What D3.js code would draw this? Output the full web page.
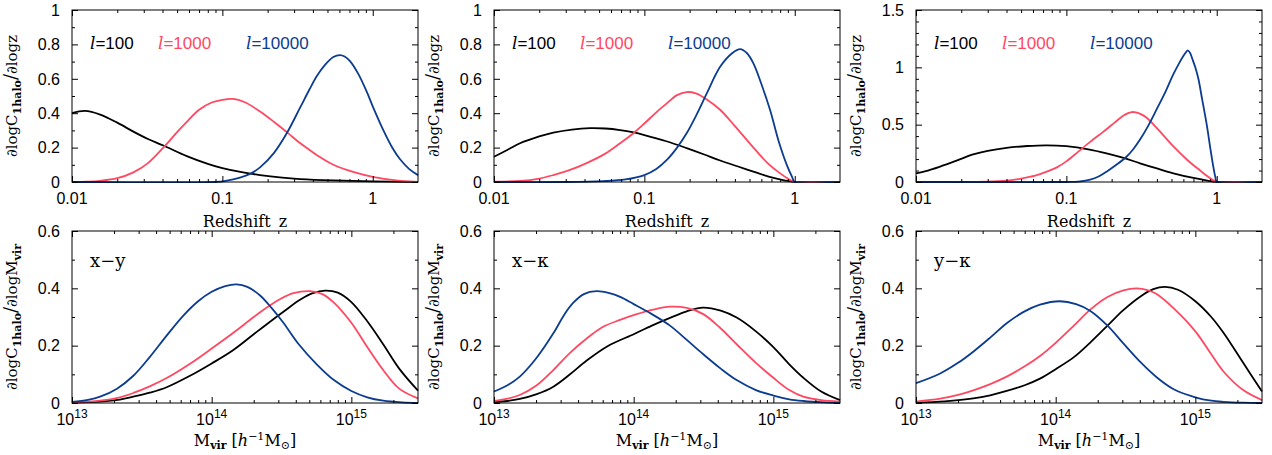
<!DOCTYPE html>
<html><head><meta charset="utf-8">
<script src="https://cdn.jsdelivr.net/npm/d3@7"></script>
<style>body{margin:0;background:#fff}svg{display:block}</style>
</head><body><svg id="c" width="1272" height="455"></svg>
<script>
// ---------------- DATA ----------------
const seriesNames = ["l=100", "l=1000", "l=10000"];
const seriesColors = ["#000000", "#ff4862", "#0b3c8f"];
const zTicks = [0.01, 0.1, 1];
const zTickLabels = ["0.01", "0.1", "1"];
const mTicks = [1e13, 1e14, 1e15];
const mTickExponents = ["13", "14", "15"];
const panelTags = ["x\u2212y", "x\u2212\u03ba", "y\u2212\u03ba"];

// top-left panel: [z, dlogC/dlogz]
const zA_l100 = [[0.01,0.40],[0.0122,0.413],[0.0154,0.392],[0.02,0.345],[0.0256,0.293],[0.032,0.25],[0.0405,0.212],[0.058,0.15],[0.08,0.105],[0.1,0.08],[0.14,0.055],[0.178,0.04],[0.25,0.025],[0.329,0.017],[0.547,0.009],[1,0.004],[2,0.0]];
const zA_l1000 = [[0.01,0],[0.0125,0.002],[0.0154,0.007],[0.02,0.022],[0.0256,0.056],[0.032,0.11],[0.0405,0.2],[0.05,0.29],[0.058,0.35],[0.07,0.42],[0.085,0.462],[0.1,0.478],[0.118,0.483],[0.14,0.465],[0.178,0.41],[0.22,0.35],[0.268,0.29],[0.33,0.225],[0.38,0.186],[0.424,0.157],[0.547,0.1],[0.75,0.057],[1,0.03],[1.52,0.006],[2,0]];
const zA_l10000 = [[0.01,0],[0.09,0],[0.105,0.006],[0.131,0.025],[0.155,0.05],[0.178,0.085],[0.22,0.168],[0.268,0.283],[0.33,0.435],[0.38,0.539],[0.424,0.615],[0.48,0.68],[0.547,0.727],[0.606,0.738],[0.65,0.73],[0.706,0.703],[0.8,0.63],[0.912,0.525],[1,0.44],[1.178,0.30],[1.35,0.199],[1.52,0.132],[1.75,0.075],[2,0.04]];
// top-middle panel
const zB_l100 = [[0.01,0.147],[0.0125,0.19],[0.0149,0.225],[0.02,0.265],[0.0248,0.287],[0.033,0.305],[0.0435,0.313],[0.055,0.311],[0.0689,0.302],[0.085,0.288],[0.1,0.273],[0.14,0.237],[0.191,0.197],[0.25,0.16],[0.319,0.125],[0.42,0.09],[0.531,0.06],[0.68,0.03],[0.85,0.01],[1,0],[2,0]];
const zB_l1000 = [[0.01,0.002],[0.0149,0.006],[0.02,0.02],[0.0248,0.04],[0.032,0.07],[0.0413,0.11],[0.055,0.165],[0.0689,0.225],[0.085,0.285],[0.1,0.34],[0.12,0.405],[0.141,0.457],[0.165,0.505],[0.191,0.523],[0.22,0.515],[0.26,0.48],[0.319,0.42],[0.4,0.325],[0.531,0.2],[0.66,0.11],[0.8,0.05],[0.92,0.015],[1,0],[2,0]];
const zB_l10000 = [[0.01,0],[0.03,0],[0.0534,0.005],[0.075,0.015],[0.1,0.04],[0.12,0.075],[0.141,0.128],[0.165,0.2],[0.191,0.283],[0.225,0.4],[0.26,0.515],[0.319,0.67],[0.385,0.75],[0.433,0.773],[0.48,0.75],[0.531,0.69],[0.6,0.57],[0.685,0.42],[0.78,0.24],[0.885,0.1],[0.96,0.03],[1,0],[2,0]];
// top-right panel
const zC_l100 = [[0.01,0.076],[0.012,0.1],[0.01445,0.134],[0.019,0.19],[0.024,0.24],[0.03,0.272],[0.04,0.298],[0.055,0.314],[0.074,0.32],[0.1,0.312],[0.14,0.285],[0.185,0.25],[0.24,0.21],[0.309,0.163],[0.4,0.118],[0.515,0.076],[0.7,0.035],[0.88,0.01],[1,0],[2,0]];
const zC_l1000 = [[0.01,0],[0.03,0.004],[0.04,0.012],[0.05,0.03],[0.062,0.055],[0.074,0.09],[0.087,0.13],[0.1,0.18],[0.12,0.265],[0.144,0.35],[0.165,0.41],[0.185,0.46],[0.21,0.52],[0.239,0.577],[0.255,0.598],[0.272,0.61],[0.29,0.607],[0.315,0.59],[0.342,0.56],[0.4,0.47],[0.515,0.31],[0.64,0.19],[0.776,0.1],[0.9,0.035],[1,0],[2,0]];
const zC_l10000 = [[0.01,0],[0.1,0],[0.12,0.004],[0.144,0.02],[0.165,0.05],[0.185,0.09],[0.215,0.15],[0.251,0.22],[0.28,0.29],[0.309,0.37],[0.35,0.49],[0.399,0.635],[0.45,0.77],[0.515,0.94],[0.57,1.05],[0.615,1.12],[0.641,1.148],[0.665,1.125],[0.69,1.07],[0.72,1.0],[0.755,0.9],[0.8,0.72],[0.858,0.5],[0.91,0.28],[0.95,0.13],[0.98,0.04],[1,0],[2,0]];
// bottom-left panel (x-y): [Mvir, dlogC/dlogM]
const mA_l100 = [[1e13,0.001],[1.59e13,0.005],[2.2e13,0.012],[2.75e13,0.022],[3.6e13,0.036],[4.76e13,0.055],[7e13,0.095],[1e14,0.138],[1.43e14,0.185],[2e14,0.24],[2.48e14,0.275],[3.3e14,0.32],[4.29e14,0.36],[5.3e14,0.383],[6.48e14,0.392],[8e14,0.385],[1e15,0.352],[1.3e15,0.285],[1.69e15,0.205],[2.2e15,0.12],[3e15,0.043]];
const mA_l1000 = [[1e13,0.002],[1.59e13,0.008],[2.2e13,0.02],[2.75e13,0.035],[3.6e13,0.058],[4.76e13,0.087],[7e13,0.137],[1e14,0.19],[1.43e14,0.245],[2e14,0.3],[2.48e14,0.333],[3.1e14,0.363],[3.85e14,0.383],[5.06e14,0.39],[6.2e14,0.38],[7.43e14,0.352],[1e15,0.28],[1.3e15,0.195],[1.69e15,0.115],[2.2e15,0.05],[3e15,0.016]];
const mA_l10000 = [[1e13,0.004],[1.3e13,0.011],[1.59e13,0.022],[2.1e13,0.05],[2.75e13,0.095],[3.6e13,0.16],[4.76e13,0.235],[6.27e13,0.305],[8e13,0.355],[1e14,0.388],[1.25e14,0.408],[1.51e14,0.414],[1.8e14,0.405],[2.22e14,0.375],[2.7e14,0.33],[3.26e14,0.28],[4.2e14,0.205],[5.65e14,0.135],[7.5e14,0.08],[1e15,0.042],[1.3e15,0.02],[1.69e15,0.008],[2.3e15,0.002],[3e15,0]];
// bottom-middle panel (x-kappa)
const mB_l100 = [[1e13,0.003],[1.25e13,0.007],[1.53e13,0.014],[2e13,0.03],[2.66e13,0.057],[3.5e13,0.1],[4.61e13,0.148],[6.5e13,0.198],[1e14,0.24],[1.35e14,0.27],[1.82e14,0.297],[2.4e14,0.32],[3.15e14,0.333],[4.2e14,0.322],[5.46e14,0.298],[7.5e14,0.25],[1e15,0.195],[1.3e15,0.135],[1.64e15,0.088],[2.2e15,0.04],[3e15,0.01]];
const mB_l1000 = [[1e13,0.007],[1.25e13,0.015],[1.53e13,0.028],[2e13,0.06],[2.66e13,0.115],[3.5e13,0.175],[4.61e13,0.225],[6e13,0.265],[7.98e13,0.29],[1.05e14,0.31],[1.38e14,0.326],[1.82e14,0.336],[2.4e14,0.332],[3.15e14,0.31],[4.1e14,0.265],[5.46e14,0.205],[7.5e14,0.14],[1e15,0.088],[1.3e15,0.045],[1.64e15,0.022],[2.2e15,0.01],[3e15,0.005]];
const mB_l10000 = [[1e13,0.04],[1.25e13,0.062],[1.53e13,0.092],[2e13,0.155],[2.66e13,0.243],[3.2e13,0.31],[3.7e13,0.35],[4.4e13,0.38],[5.43e13,0.39],[6.7e13,0.383],[8e13,0.37],[1e14,0.345],[1.35e14,0.31],[1.82e14,0.27],[2.4e14,0.22],[3.15e14,0.17],[4.2e14,0.12],[5.46e14,0.08],[7.5e14,0.045],[1e15,0.026],[1.3e15,0.013],[1.64e15,0.007],[2.3e15,0.002],[3e15,0]];
// bottom-right panel (y-kappa)
const mC_l100 = [[1e13,0.001],[1.6e13,0.006],[2.57e13,0.016],[3.4e13,0.027],[4.46e13,0.042],[6e13,0.062],[7.72e13,0.085],[1e14,0.118],[1.35e14,0.16],[1.76e14,0.21],[2.35e14,0.27],[3.05e14,0.324],[4e14,0.37],[5e14,0.397],[6.06e14,0.405],[7.5e14,0.395],[1e15,0.355],[1.3e15,0.3],[1.59e15,0.245],[2.2e15,0.14],[3e15,0.04]];
const mC_l1000 = [[1e13,0.005],[1.49e13,0.015],[2e13,0.028],[2.57e13,0.044],[3.4e13,0.066],[4.46e13,0.092],[6e13,0.128],[7.72e13,0.164],[1e14,0.21],[1.35e14,0.27],[1.76e14,0.325],[2.35e14,0.37],[3.05e14,0.393],[3.8e14,0.40],[4.6e14,0.393],[5.28e14,0.38],[7e14,0.33],[1e15,0.25],[1.3e15,0.17],[1.59e15,0.11],[2.2e15,0.045],[3e15,0.01]];
const mC_l10000 = [[1e13,0.069],[1.49e13,0.103],[2e13,0.14],[2.57e13,0.179],[3.4e13,0.228],[4.46e13,0.278],[5.9e13,0.318],[7.72e13,0.343],[1.07e14,0.355],[1.4e14,0.345],[1.76e14,0.322],[2.35e14,0.27],[3.05e14,0.208],[4e14,0.145],[5.28e14,0.09],[7e14,0.048],[1e15,0.02],[1.3e15,0.008],[1.59e15,0.004],[2.2e15,0.001],[3e15,0]];

// ---------------- LAYOUT ----------------
const svg = d3.select("#c");
const PW = 346, PH = 172;
const lefts = [72, 494, 916];
const tops = [10, 231];
const SANS = "'Liberation Sans', Arial, sans-serif";
const SERIF = "'DejaVu Serif', serif";

function minorLog(lo, hi) {
  const out = [];
  for (let e = Math.floor(Math.log10(lo)); e <= Math.ceil(Math.log10(hi)); e++) {
    for (let k = 2; k <= 9; k++) { const v = k * Math.pow(10, e); if (v > lo * 1.0001 && v < hi * 0.9999) out.push(v); }
  }
  return out;
}
function linTicks(lo, hi, step) {
  const out = []; const n = Math.round((hi - lo) / step);
  for (let i = 0; i <= n; i++) out.push(+(lo + i * step).toFixed(6));
  return out;
}

function panel(px, py, cfg, idx) {
  const g = svg.append("g").attr("transform", `translate(${px},${py})`);
  const x = d3.scaleLog().domain(cfg.xDomain).range([0, PW]);
  const y = d3.scaleLinear().domain(cfg.yDomain).range([PH, 0]);
  const clipId = "clip" + idx;
  g.append("clipPath").attr("id", clipId).append("rect").attr("x", -1).attr("y", -2).attr("width", PW + 2).attr("height", PH + 3);

  // curves
  const line = d3.line().x(d => x(d[0])).y(d => y(d[1])).curve(d3.curveCatmullRom.alpha(0.5));
  const cg = g.append("g").attr("clip-path", `url(#${clipId})`);
  cfg.series.forEach((s, i) => {
    cg.append("path").attr("d", line(s)).attr("fill", "none")
      .attr("stroke", seriesColors[i]).attr("stroke-width", 1.8).attr("stroke-linejoin", "round");
  });

  // ticks
  const strip = s => { s.select(".domain").remove(); s.selectAll("text").remove(); s.selectAll("line").attr("stroke", "#000").attr("stroke-width", 1); };
  const xMinor = minorLog(cfg.xDomain[0], cfg.xDomain[1]);
  const yMaj = cfg.yMajor, yMin = cfg.yMinor.filter(v => !yMaj.includes(v));
  g.append("g").attr("transform", `translate(0,${PH})`).call(d3.axisBottom(x).tickValues(cfg.xMajor).tickSize(-6)).call(strip);
  g.append("g").attr("transform", `translate(0,${PH})`).call(d3.axisBottom(x).tickValues(xMinor).tickSize(-3)).call(strip);
  g.append("g").call(d3.axisTop(x).tickValues(cfg.xMajor).tickSize(-6)).call(strip);
  g.append("g").call(d3.axisTop(x).tickValues(xMinor).tickSize(-3)).call(strip);
  g.append("g").call(d3.axisLeft(y).tickValues(yMaj).tickSize(-6)).call(strip);
  g.append("g").call(d3.axisLeft(y).tickValues(yMin).tickSize(-3)).call(strip);
  g.append("g").attr("transform", `translate(${PW},0)`).call(d3.axisRight(y).tickValues(yMaj).tickSize(-6)).call(strip);
  g.append("g").attr("transform", `translate(${PW},0)`).call(d3.axisRight(y).tickValues(yMin).tickSize(-3)).call(strip);

  // frame
  g.append("rect").attr("width", PW).attr("height", PH).attr("fill", "none").attr("stroke", "#000").attr("stroke-width", 1);

  // y tick labels
  yMaj.forEach((v, i) => {
    g.append("text").attr("x", -12).attr("y", y(v)).attr("dy", "0.36em").attr("text-anchor", "end")
      .attr("font-family", SANS).attr("font-size", 16).text(cfg.yLabels[i]);
  });
  // x tick labels
  cfg.xMajor.forEach((v, i) => {
    if (cfg.xExp) {
      const t = g.append("text").attr("x", x(v)).attr("y", PH + 22).attr("text-anchor", "middle")
        .attr("font-family", SANS).attr("font-size", 16);
      t.append("tspan").text("10");
      t.append("tspan").attr("dy", -7).attr("font-size", 12).text(cfg.xExp[i]);
    } else {
      g.append("text").attr("x", x(v)).attr("y", PH + 22).attr("text-anchor", "middle")
        .attr("font-family", SANS).attr("font-size", 16).text(cfg.xLabels[i]);
    }
  });

  // axis titles
  if (cfg.kind === "z") {
    g.append("text").attr("x", PW / 2).attr("y", PH + 45).attr("text-anchor", "middle")
      .attr("font-family", SERIF).attr("font-size", 16).attr("word-spacing", 3).text("Redshift z");
  } else {
    const t = g.append("text").attr("x", PW / 2).attr("y", PH + 43).attr("text-anchor", "middle")
      .attr("font-family", SERIF).attr("font-size", 16);
    t.append("tspan").text("M");
    t.append("tspan").attr("dy", 3).attr("font-size", 11).attr("font-weight", "bold").text("vir");
    t.append("tspan").attr("dy", -3).text("  [");
    t.append("tspan").attr("font-style", "italic").text("h");
    t.append("tspan").attr("dy", -6).attr("font-size", 11).text("\u22121");
    t.append("tspan").attr("dy", 6).text("M");
    t.append("tspan").attr("dy", 3).attr("font-size", 11).text("\u2299");
    t.append("tspan").attr("dy", -3).text("]");
  }
  // y title
  const yt = g.append("text").attr("transform", `translate(${-55},${PH / 2}) rotate(-90)`)
    .attr("text-anchor", "middle").attr("font-family", SERIF).attr("font-size", 15);
  yt.append("tspan").text("\u2202logC");
  yt.append("tspan").attr("dy", 4).attr("font-size", 11).attr("font-weight", "bold").text("1halo");
  yt.append("tspan").attr("dy", -4).attr("font-size", 18).text("/");
  if (cfg.kind === "z") {
    yt.append("tspan").text("\u2202logz");
  } else {
    yt.append("tspan").text("\u2202logM");
    yt.append("tspan").attr("dy", 4).attr("font-size", 11).attr("font-weight", "bold").text("vir");
  }

  // legend / tag
  if (cfg.kind === "z") {
    const lx = [18, 86, 174];
    seriesNames.forEach((nm, i) => {
      const t = g.append("text").attr("x", lx[i]).attr("y", 39).attr("fill", seriesColors[i])
        .attr("font-family", SANS).attr("font-size", 17);
      t.append("tspan").attr("font-family", SERIF).attr("font-style", "italic").text("l");
      t.append("tspan").text(nm.slice(1));
    });
  } else {
    g.append("text").attr("x", 18).attr("y", 36).attr("font-family", SERIF).attr("font-size", 18)
      .text(panelTags[idx - 3]);
  }
}

const topCfg = (series, yDomain, yMajor, yLabels, yStep) => ({
  kind: "z", xDomain: [0.01, 2], xMajor: zTicks, xLabels: zTickLabels,
  yDomain, yMajor, yLabels, yMinor: linTicks(yDomain[0], yDomain[1], yStep), series
});
const botCfg = (series) => ({
  kind: "m", xDomain: [1e13, 3e15], xMajor: mTicks, xExp: mTickExponents,
  yDomain: [0, 0.6], yMajor: [0, 0.2, 0.4, 0.6], yLabels: ["0", "0.2", "0.4", "0.6"],
  yMinor: linTicks(0, 0.6, 0.1), series
});

panel(lefts[0], tops[0], topCfg([zA_l100, zA_l1000, zA_l10000], [0, 1], [0, 0.2, 0.4, 0.6, 0.8, 1], ["0", "0.2", "0.4", "0.6", "0.8", "1"], 0.1), 0);
panel(lefts[1], tops[0], topCfg([zB_l100, zB_l1000, zB_l10000], [0, 1], [0, 0.2, 0.4, 0.6, 0.8, 1], ["0", "0.2", "0.4", "0.6", "0.8", "1"], 0.1), 1);
panel(lefts[2], tops[0], topCfg([zC_l100, zC_l1000, zC_l10000], [0, 1.5], [0, 0.5, 1, 1.5], ["0", "0.5", "1", "1.5"], 0.1), 2);
panel(lefts[0], tops[1], botCfg([mA_l100, mA_l1000, mA_l10000]), 3);
panel(lefts[1], tops[1], botCfg([mB_l100, mB_l1000, mB_l10000]), 4);
panel(lefts[2], tops[1], botCfg([mC_l100, mC_l1000, mC_l10000]), 5);
</script></body></html>
